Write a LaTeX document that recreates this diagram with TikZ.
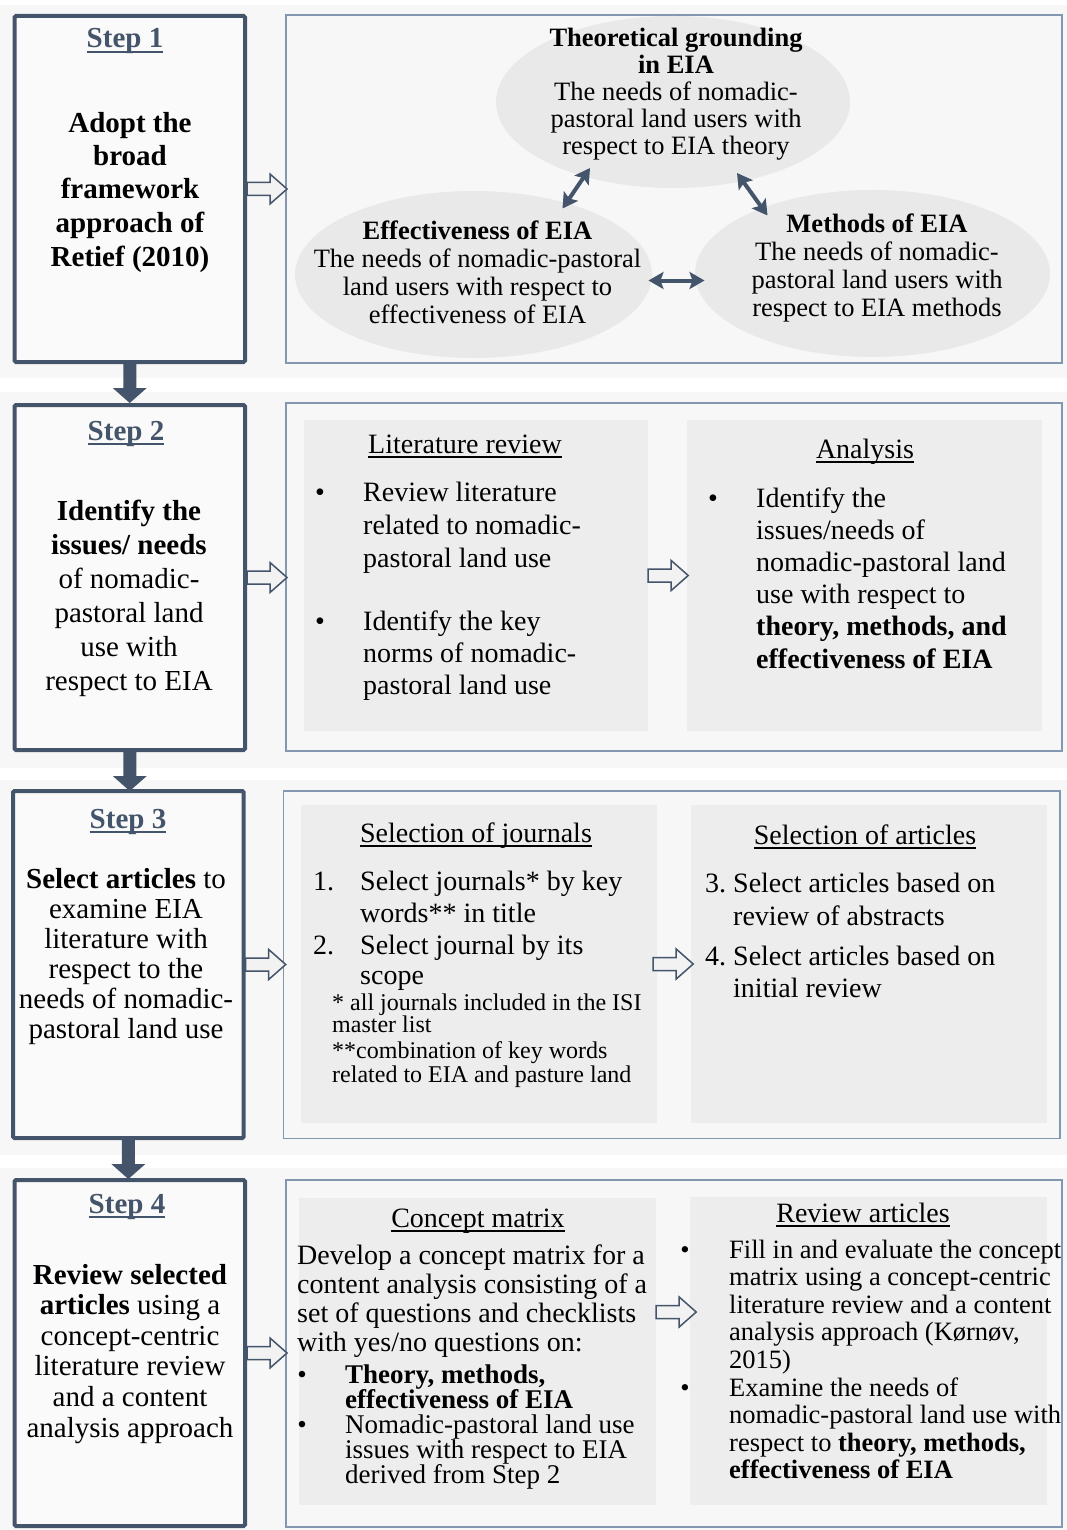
\documentclass[tikz,border=0pt]{standalone}
\usepackage{fontspec}
\setmainfont{Liberation Serif}
\usetikzlibrary{calc,arrows.meta,shapes.geometric}

\definecolor{slate}{HTML}{44546A}
\definecolor{frameblue}{HTML}{8497B0}
\definecolor{bandgray}{HTML}{F7F7F7}
\definecolor{panelgray}{HTML}{EDEDED}
\definecolor{ovalgray}{HTML}{E9E9E9}
\definecolor{stepfill}{HTML}{FAFAFA}
\definecolor{arrowfill}{HTML}{F2F2F2}

\newcommand\fsz[2]{\fontsize{#1}{#2}\selectfont}
\newsavebox\undlbox
\newcommand\undl[1]{\sbox\undlbox{#1}\rlap{\rule[-0.17em]{\wd\undlbox}{0.05em}}\usebox\undlbox}

% multi-line nodes sit on the baseline of their last line
\tikzset{
  stepbox/.style={draw=slate, line width=4pt, fill=stepfill, rounded corners=1.5pt, inner sep=0},
  outerbox/.style={draw=frameblue, line width=1.5pt, inner sep=0},
  panel/.style={fill=panelgray, inner sep=0},
  oval/.style={ellipse, fill=ovalgray, inner sep=0},
  steplabel/.style={anchor=base, inner sep=0, text=slate, font=\fsz{29}{34}\bfseries},
  ctext/.style={anchor=base, align=center, inner sep=0},
  ltext/.style={anchor=base west, align=left, inner sep=0},
  bul/.style={anchor=base, inner sep=0},
  dblarrow/.style={line width=4pt, draw=slate,
    {Stealth[length=15pt,width=17pt,inset=3pt]}-{Stealth[length=15pt,width=17pt,inset=3pt]}},
  pics/openarrow/.style={code={
    \draw[line width=1.5pt, draw=slate, fill=arrowfill, line join=miter]
      (0,-6.5) -- (23,-6.5) -- (23,-15) -- (40,0) -- (23,15) -- (23,6.5) -- (0,6.5) -- cycle;}},
  pics/downarrow/.style={code={
    \fill[slate] (-6.5,0) -- (-6.5,24) -- (-17,24) -- (0,39) -- (17,24) -- (6.5,24) -- (6.5,0) -- cycle;}},
}

\begin{document}
\begin{tikzpicture}[x=1pt, y=-1pt]
\useasboundingbox (0,0) rectangle (1067,1530);

% background bands, one per step
\fill[bandgray] (0,5) rectangle (1067,378);
\fill[bandgray] (0,392) rectangle (1067,768);
\fill[bandgray] (0,780) rectangle (1067,1155);
\fill[bandgray] (0,1168) rectangle (1067,1530);

% frames on the right
\node[outerbox, minimum width=776, minimum height=348] (r1) at (674,189) {};
\node[outerbox, minimum width=776, minimum height=348] (r2) at (674,577) {};
\node[outerbox, minimum width=776.5, minimum height=347.5] (r3) at (671.75,964.75) {};
\node[outerbox, minimum width=776, minimum height=347] (r4) at (674,1353.5) {};

% grey panels
\node[panel, minimum width=344, minimum height=311] (p2a) at (476,575.5) {};
\node[panel, minimum width=355, minimum height=311] (p2b) at (864.5,575.5) {};
\node[panel, minimum width=356, minimum height=318] (p3a) at (479,964) {};
\node[panel, minimum width=356, minimum height=318] (p3b) at (869,964) {};
\node[panel, minimum width=357, minimum height=307] (p4a) at (477.5,1351.5) {};
\node[panel, minimum width=357, minimum height=308] (p4b) at (868.5,1351) {};

% ovals of step 1
\node[oval, minimum width=354, minimum height=172] (eT) at (673,102) {};
\node[oval, minimum width=357, minimum height=167] (eL) at (473.5,274.5) {};
\node[oval, minimum width=355, minimum height=167] (eR) at (872.5,273.5) {};

% step boxes
\node[stepbox, minimum width=230.5, minimum height=346] (s1) at (129.75,189) {};
\node[stepbox, minimum width=230.5, minimum height=345] (s2) at (129.75,577.5) {};
\node[stepbox, minimum width=230.7, minimum height=347] (s3) at (128.35,964.5) {};
\node[stepbox, minimum width=230.5, minimum height=346] (s4) at (129.75,1353) {};

% arrows between steps
\pic at (s1.south) {downarrow};
\pic at (s2.south) {downarrow};
\pic at (s3.south) {downarrow};

% arrows from steps to their frames
\pic at (s1.east) {openarrow};
\pic at (s2.east) {openarrow};
\pic at (s3.east) {openarrow};
\pic at (s4.east) {openarrow};

% arrows between panels
\pic at (p2a.east) {openarrow};
\pic at ($(p3a.east)+(-4,0)$) {openarrow};
\pic at ($(p4a.east)+(0,-39.5)$) {openarrow};

% links between the ovals
\draw[dblarrow] ($(eT.center)+(-83,66)$) -- ($(eL.center)+(89,-66)$);
\draw[dblarrow] ($(eT.center)+(64,71)$) -- ($(eR.center)+(-105,-58)$);
\draw[dblarrow] ($(eL.center)+(175,6)$) -- ($(eR.center)+(-168,7)$);

% ---- step texts
\node[steplabel] (s1lab) at (125,48) {\undl{Step 1}};
\node[ctext, font=\fsz{29}{33.5}\bfseries] (s1txt) at (130,266)
  {Adopt the\\broad\\framework\\approach of\\Retief (2010)};

\node[steplabel] (s2lab) at (126,440) {\undl{Step 2}};
\node[ctext, font=\fsz{29}{34}] (s2txt) at (129,690)
  {\textbf{Identify the}\\\textbf{issues/ needs}\\of nomadic-\\pastoral land\\use with\\respect to EIA};

\node[steplabel] (s3lab) at (128,828) {\undl{Step 3}};
\node[ctext, font=\fsz{29}{30}] (s3txt) at (126,1038)
  {\textbf{Select articles} to\\examine EIA\\literature with\\respect to the\\needs of nomadic-\\pastoral land use};

\node[steplabel] (s4lab) at (127,1213) {\undl{Step 4}};
\node[ctext, font=\fsz{29}{30.6}] (s4txt) at (130,1437)
  {\textbf{Review selected}\\\textbf{articles} using a\\concept-centric\\literature review\\and a content\\analysis approach};

% ---- oval texts
\node[ctext, font=\fsz{26.5}{27}] (eTt) at (676,155)
  {\textbf{Theoretical grounding}\\\textbf{in EIA}\\The needs of nomadic-\\pastoral land users with\\respect to EIA theory};
\node[ctext, font=\fsz{26.5}{27.7}] (eLt) at (477.5,323)
  {\textbf{Effectiveness of EIA}\\The needs of nomadic-pastoral\\land users with respect to\\effectiveness of EIA};
\node[ctext, font=\fsz{26.5}{28}] (eRt) at (877,316)
  {\textbf{Methods of EIA}\\The needs of nomadic-\\pastoral land users with\\respect to EIA methods};

% ---- step 2 panels
\node[ctext, font=\fsz{28}{33}] (p2ah) at (465,453) {\undl{Literature review}};
\node[bul, font=\fsz{28}{33}] (p2ab1) at (320,501) {\textbullet};
\node[ltext, font=\fsz{28}{33}] (p2at1) at (363,567)
  {Review literature\\related to nomadic-\\pastoral land use};
\node[bul, font=\fsz{28}{33}] (p2ab2) at (320,630) {\textbullet};
\node[ltext, font=\fsz{28}{32}] (p2at2) at (363,694)
  {Identify the key\\norms of nomadic-\\pastoral land use};

\node[ctext, font=\fsz{28}{33}] (p2bh) at (865,458) {\undl{Analysis}};
\node[bul, font=\fsz{28}{33}] (p2bb1) at (713,507) {\textbullet};
\node[ltext, font=\fsz{28}{32.2}] (p2bt1) at (756,668)
  {Identify the\\issues/needs of\\nomadic-pastoral land\\use with respect to\\\textbf{theory, methods, and}\\\textbf{effectiveness of EIA}};

% ---- step 3 panels
\node[ctext, font=\fsz{28}{32}] (p3ah) at (476,842) {\undl{Selection of journals}};
\node[ltext, font=\fsz{28}{32}] (p3an1) at (313,890) {1.};
\node[ltext, font=\fsz{28}{32}] (p3at1) at (360,922) {Select journals* by key\\words** in title};
\node[ltext, font=\fsz{28}{30}] (p3an2) at (313,954) {2.};
\node[ltext, font=\fsz{28}{30}] (p3at2) at (360,984) {Select journal by its\\scope};
\node[ltext, font=\fsz{24}{22}] (p3af1) at (332,1032) {* all journals included in the ISI\\master list};
\node[ltext, font=\fsz{24}{24}] (p3af2) at (332,1082) {**combination of key words\\related to EIA and pasture land};

\node[ctext, font=\fsz{28}{32}] (p3bh) at (865,844) {\undl{Selection of articles}};
\node[ltext, font=\fsz{28}{33}] (p3bn3) at (705,892) {3.};
\node[ltext, font=\fsz{28}{33}] (p3bt3) at (733,925) {Select articles based on\\review of abstracts};
\node[ltext, font=\fsz{28}{32}] (p3bn4) at (705,965) {4.};
\node[ltext, font=\fsz{28}{32}] (p3bt4) at (733,997) {Select articles based on\\initial review};

% ---- step 4 panels
\node[ctext, font=\fsz{28}{29}] (p4ah) at (478,1227) {\undl{Concept matrix}};
\node[ltext, font=\fsz{28}{29}] (p4at) at (297,1351)
  {Develop a concept matrix for a\\content analysis consisting of a\\set of questions and checklists\\with yes/no questions on:};
\node[bul, font=\fsz{27}{25}] (p4ab1) at (302,1383) {\textbullet};
\node[ltext, font=\fsz{27}{25}] (p4at1) at (345,1408)
  {\textbf{Theory, methods,}\\\textbf{effectiveness of EIA}};
\node[bul, font=\fsz{27}{25}] (p4ab2) at (302,1433) {\textbullet};
\node[ltext, font=\fsz{27}{25}] (p4at2) at (345,1483)
  {Nomadic-pastoral land use\\issues with respect to EIA\\derived from Step 2};

\node[ctext, font=\fsz{28}{29}] (p4bh) at (863,1222) {\undl{Review articles}};
\node[bul, font=\fsz{26.5}{27.5}] (p4bb1) at (685,1258) {\textbullet};
\node[ltext, font=\fsz{26.5}{27.5}] (p4bt1) at (729,1368)
  {Fill in and evaluate the concept\\matrix using a concept-centric\\literature review and a content\\analysis approach (Kørnøv,\\2015)};
\node[bul, font=\fsz{26.5}{27.5}] (p4bb2) at (685,1396) {\textbullet};
\node[ltext, font=\fsz{26.5}{27.5}] (p4bt2) at (729,1478.5)
  {Examine the needs of\\nomadic-pastoral land use with\\respect to \textbf{theory, methods,}\\\textbf{effectiveness of EIA}};

\end{tikzpicture}
\end{document}
